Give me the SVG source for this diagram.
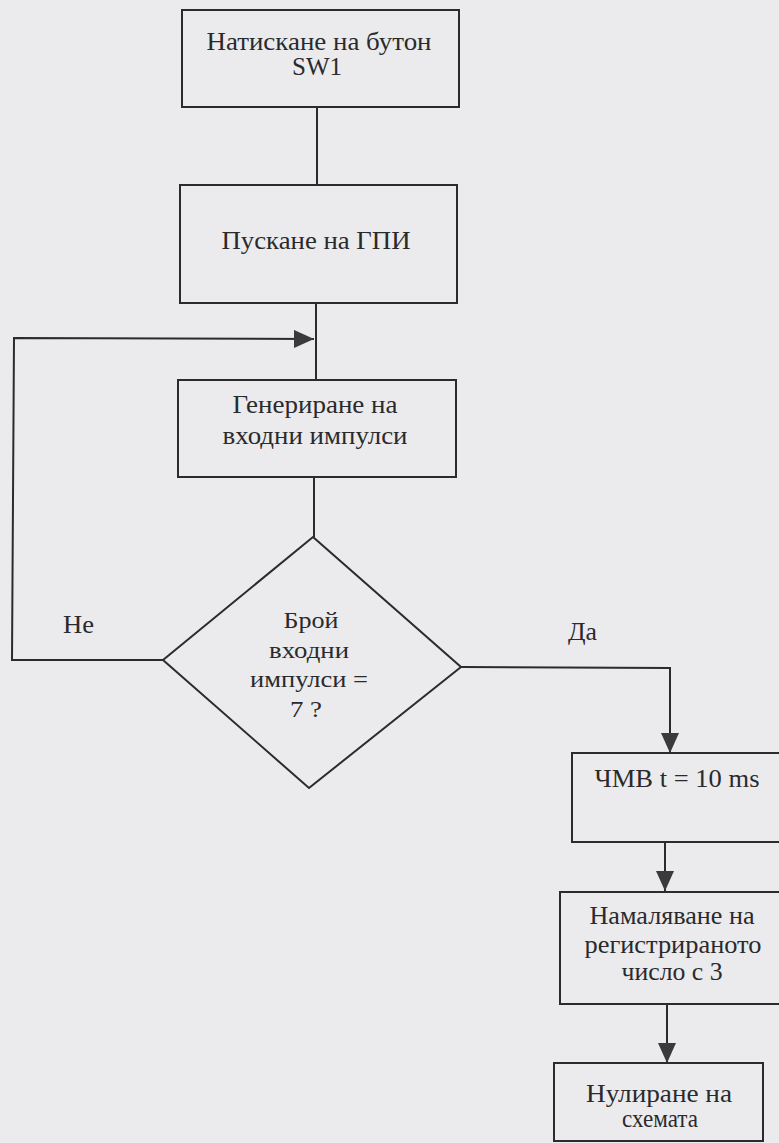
<svg xmlns="http://www.w3.org/2000/svg" width="779" height="1143" viewBox="0 0 779 1143">
<style>
.bg{fill:#ebebed}
.node{fill:none;stroke:#2b2b2e;stroke-width:2}
.edge{fill:none;stroke:#2b2b2e;stroke-width:2}
.t{font-family:"Liberation Serif","Times New Roman",serif;font-size:25px;fill:#2a2a2c;text-anchor:middle}
.td{font-family:"Liberation Serif","Times New Roman",serif;font-size:23px;fill:#2a2a2c;text-anchor:middle}
.lbl{font-family:"Liberation Serif","Times New Roman",serif;font-size:25px;fill:#2a2a2c}
</style>
<defs>
<marker id="arr" markerWidth="20" markerHeight="18" refX="20" refY="9" orient="auto" markerUnits="userSpaceOnUse">
<path d="M0,0 L20,9 L0,18 Z" fill="#3a3a3d"/>
</marker>
</defs>
<rect class="bg" x="0" y="0" width="779" height="1143"/>
<g id="connectors">
<line class="edge" x1="317" y1="107" x2="317" y2="185"/>
<line class="edge" x1="316" y1="303" x2="316" y2="380"/>
<polyline class="edge" points="163,660 12,660 14,338 314,339" marker-end="url(#arr)"/>
<line class="edge" x1="314" y1="477" x2="314" y2="537"/>
<polyline class="edge" points="461,667 670,668 670,753" marker-end="url(#arr)"/>
<line class="edge" x1="665" y1="842" x2="665" y2="891" marker-end="url(#arr)"/>
<line class="edge" x1="667" y1="1004" x2="667" y2="1063" marker-end="url(#arr)"/>
<text class="lbl" x="63" y="633" textLength="31" lengthAdjust="spacingAndGlyphs">Не</text>
<text class="lbl" x="568" y="640" textLength="29" lengthAdjust="spacingAndGlyphs">Да</text>
</g>
<g id="n1">
<rect class="node" x="182" y="10" width="277" height="97"/>
<text class="t" x="319" y="50" textLength="225" lengthAdjust="spacingAndGlyphs">Натискане на бутон</text>
<text class="t" x="317" y="75" textLength="50" lengthAdjust="spacingAndGlyphs">SW1</text>
</g>
<g id="n2">
<rect class="node" x="180" y="185" width="277" height="118"/>
<text class="t" x="316" y="249" textLength="189" lengthAdjust="spacingAndGlyphs">Пускане на ГПИ</text>
</g>
<g id="n3">
<rect class="node" x="178" y="380" width="278" height="97"/>
<text class="t" x="315" y="413" textLength="165" lengthAdjust="spacingAndGlyphs">Генериране на</text>
<text class="t" x="315" y="444" textLength="185" lengthAdjust="spacingAndGlyphs">входни импулси</text>
</g>
<g id="n4">
<polygon class="node" points="313,537 461,667 309,788 163,660"/>
<text class="td" x="311" y="628" textLength="55" lengthAdjust="spacingAndGlyphs">Брой</text>
<text class="td" x="309" y="658" textLength="80" lengthAdjust="spacingAndGlyphs">входни</text>
<text class="td" x="309" y="687" textLength="118" lengthAdjust="spacingAndGlyphs">импулси =</text>
<text class="td" x="306" y="717" textLength="32" lengthAdjust="spacingAndGlyphs">7 ?</text>
</g>
<g id="n5">
<rect class="node" x="572" y="753" width="230" height="89"/>
<text class="t" x="677" y="787" textLength="165" lengthAdjust="spacingAndGlyphs">ЧМВ t = 10 ms</text>
</g>
<g id="n6">
<rect class="node" x="560" y="892" width="240" height="112"/>
<text class="t" x="672" y="924" textLength="165" lengthAdjust="spacingAndGlyphs">Намаляване на</text>
<text class="t" x="673" y="953" textLength="177" lengthAdjust="spacingAndGlyphs">регистрираното</text>
<text class="t" x="672" y="980" textLength="101" lengthAdjust="spacingAndGlyphs">число с 3</text>
</g>
<g id="n7">
<rect class="node" x="554" y="1063" width="209" height="78"/>
<text class="t" x="659" y="1102" textLength="146" lengthAdjust="spacingAndGlyphs">Нулиране на</text>
<text class="t" x="660" y="1127" textLength="76" lengthAdjust="spacingAndGlyphs">схемата</text>
</g>
</svg>
